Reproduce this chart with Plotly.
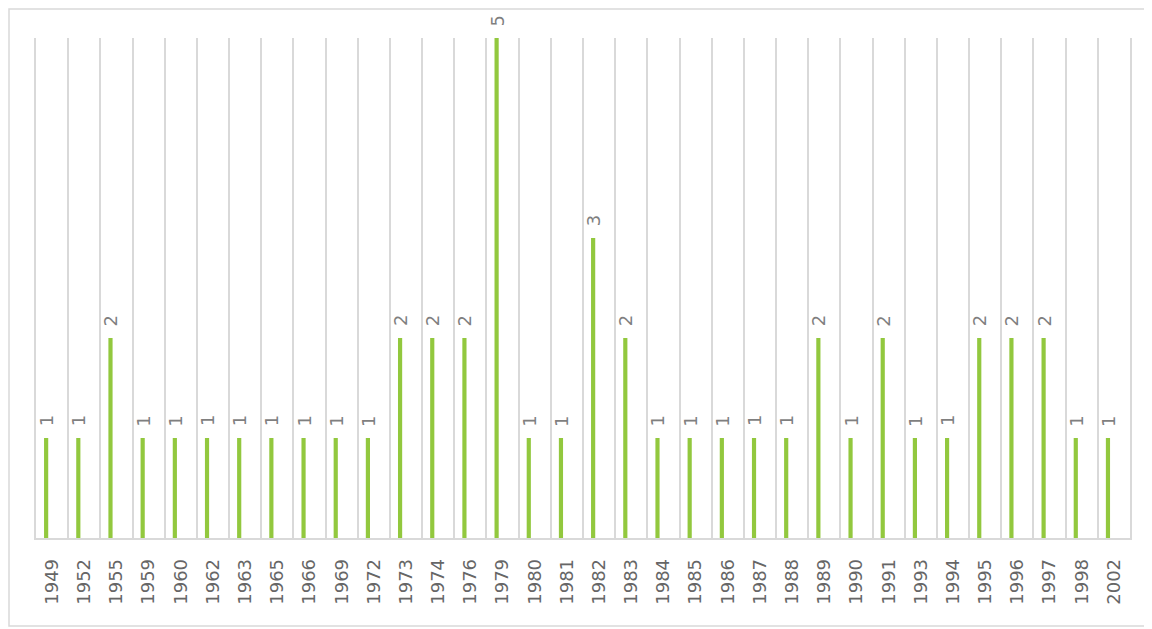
import plotly.graph_objects as go

years = ["1949", "1952", "1955", "1959", "1960", "1962", "1963", "1965", "1966", "1969",
         "1972", "1973", "1974", "1976", "1979", "1980", "1981", "1982", "1983", "1984",
         "1985", "1986", "1987", "1988", "1989", "1990", "1991", "1993", "1994", "1995",
         "1996", "1997", "1998", "2002"]
counts = [1, 1, 2, 1, 1, 1, 1, 1, 1, 1,
          1, 2, 2, 2, 5, 1, 1, 3, 2, 1,
          1, 1, 1, 1, 2, 1, 2, 1, 1, 2,
          2, 2, 1, 1]

OFF = 8  # page body margin
W, H = 1152 - OFF, 629 - OFF
L, T = 36 - OFF, 38 - OFF
pw, ph = 1094, 500
R = W - L - pw
B = H - T - ph

BAR_W = 0.13
BAR_OFF = -0.25

fig = go.Figure(go.Bar(
    x=years, y=counts,
    marker=dict(color="#92C83E", line=dict(width=0)),
    width=BAR_W, offset=BAR_OFF,
    cliponaxis=False,
    hoverinfo="x+y",
))

for i, c in enumerate(counts):
    fig.add_annotation(x=i + BAR_OFF + BAR_W / 2, y=c, text=str(c), textangle=-90, showarrow=False,
                       xanchor="center", yanchor="middle", yshift=17,
                       font=dict(family="DejaVu Sans", size=18, color="#7f7f7f"))

def px2x(p):
    return (p - OFF - L) / pw

def px2y(p):
    return (OFF + T + ph - p) / ph

fig.add_shape(type="rect", xref="paper", yref="paper",
              x0=px2x(9), x1=px2x(1300), y0=px2y(626), y1=px2y(9),
              line=dict(color="#d9d9d9", width=1.5), fillcolor="rgba(0,0,0,0)", layer="below")

fig.update_layout(
    width=W, height=H,
    margin=dict(l=L, r=R, t=T, b=B, autoexpand=False),
    paper_bgcolor="white", plot_bgcolor="white",
    showlegend=False,
    xaxis=dict(
        type="category",
        tickson="boundaries",
        showgrid=True, gridcolor="#d9d9d9", gridwidth=1.5,
        showline=True, linecolor="#d9d9d9", linewidth=1.5,
        ticks="", tickangle=-90,
        ticklabelstandoff=12,
        tickfont=dict(family="DejaVu Sans", size=18, color="#666666"),
        range=[-0.5, len(years) - 0.5],
    ),
    yaxis=dict(range=[0, 5], showticklabels=False, ticks="", showgrid=False, zeroline=False,
               showline=True, mirror=True, linecolor="#d9d9d9", linewidth=1.5),
)

fig.write_html("out.html")
